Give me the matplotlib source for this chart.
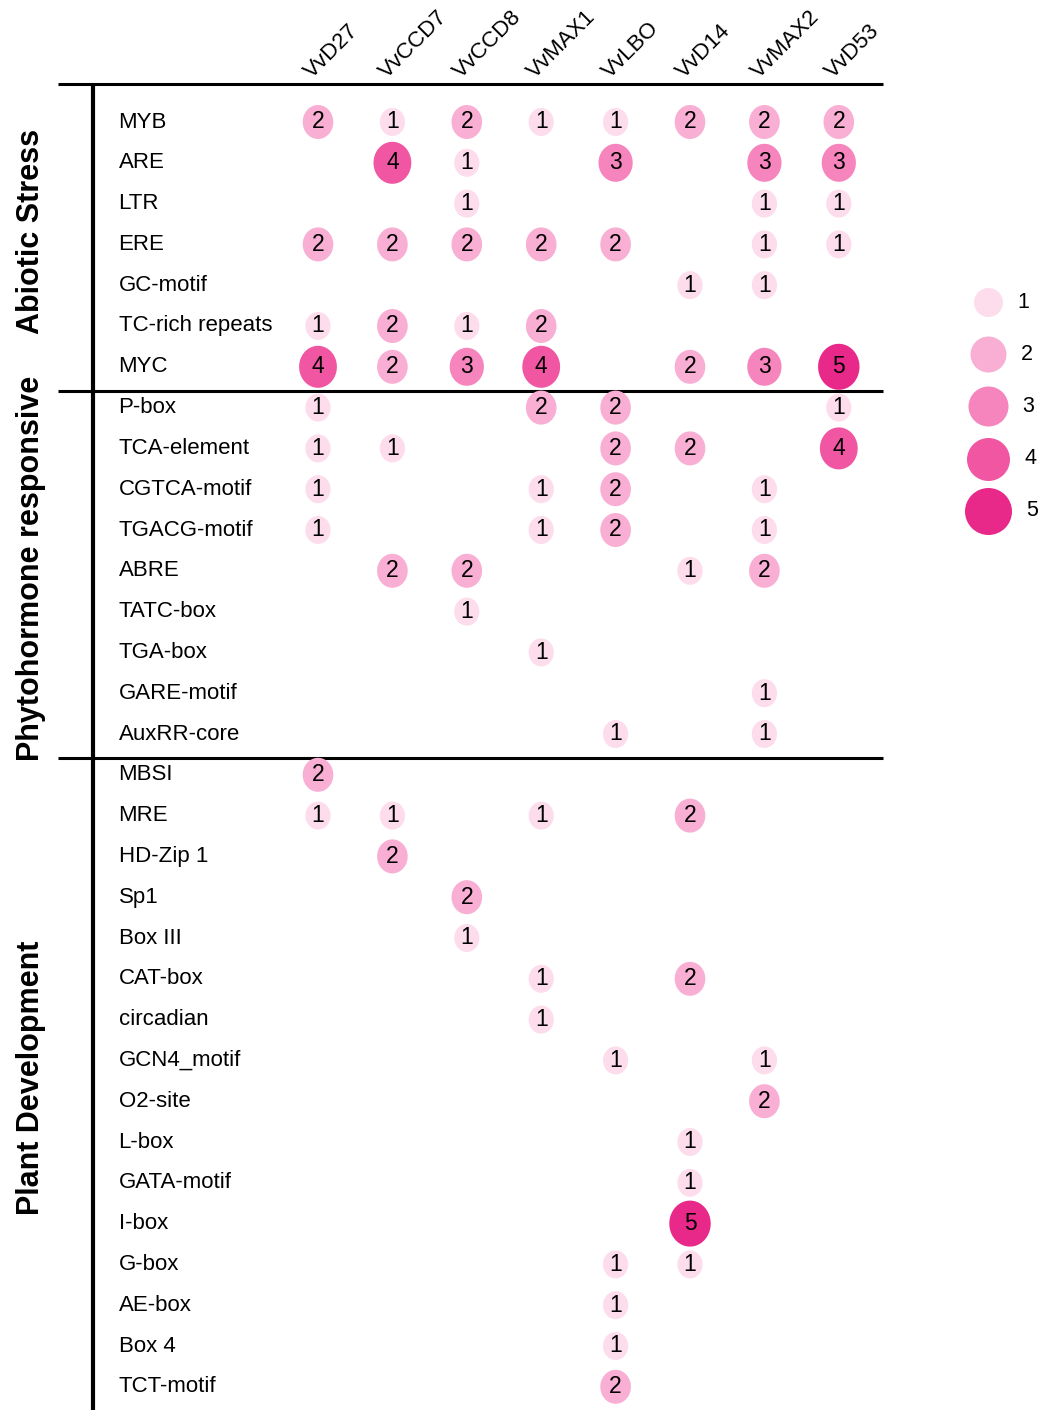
import numpy as np
import matplotlib.pyplot as plt
from matplotlib.path import Path

plt.rcParams['font.family'] = ['Liberation Sans', 'DejaVu Sans']

GENES = ["VvD27", "VvCCD7", "VvCCD8", "VvMAX1", "VvLBO", "VvD14", "VvMAX2", "VvD53"]

SECTIONS = ["Abiotic Stress", "Phytohormone responsive", "Plant Development"]

ABIOTIC_ELEMENTS = ["MYB", "ARE", "LTR", "ERE", "GC-motif", "TC-rich repeats", "MYC"]
ABIOTIC_COUNTS = [
    [2, 1, 2, 1, 1, 2, 2, 2],
    [0, 4, 1, 0, 3, 0, 3, 3],
    [0, 0, 1, 0, 0, 0, 1, 1],
    [2, 2, 2, 2, 2, 0, 1, 1],
    [0, 0, 0, 0, 0, 1, 1, 0],
    [1, 2, 1, 2, 0, 0, 0, 0],
    [4, 2, 3, 4, 0, 2, 3, 5],
]

HORMONE_ELEMENTS = ["P-box", "TCA-element", "CGTCA-motif", "TGACG-motif", "ABRE",
                    "TATC-box", "TGA-box", "GARE-motif", "AuxRR-core"]
HORMONE_COUNTS = [
    [1, 0, 0, 2, 2, 0, 0, 1],
    [1, 1, 0, 0, 2, 2, 0, 4],
    [1, 0, 0, 1, 2, 0, 1, 0],
    [1, 0, 0, 1, 2, 0, 1, 0],
    [0, 2, 2, 0, 0, 1, 2, 0],
    [0, 0, 1, 0, 0, 0, 0, 0],
    [0, 0, 0, 1, 0, 0, 0, 0],
    [0, 0, 0, 0, 0, 0, 1, 0],
    [0, 0, 0, 0, 1, 0, 1, 0],
]

DEVEL_ELEMENTS = ["MBSI", "MRE", "HD-Zip 1", "Sp1", "Box III", "CAT-box", "circadian",
                  "GCN4_motif", "O2-site", "L-box", "GATA-motif", "I-box", "G-box",
                  "AE-box", "Box 4", "TCT-motif"]
DEVEL_COUNTS = [
    [2, 0, 0, 0, 0, 0, 0, 0],
    [1, 1, 0, 1, 0, 2, 0, 0],
    [0, 2, 0, 0, 0, 0, 0, 0],
    [0, 0, 2, 0, 0, 0, 0, 0],
    [0, 0, 1, 0, 0, 0, 0, 0],
    [0, 0, 0, 1, 0, 2, 0, 0],
    [0, 0, 0, 1, 0, 0, 0, 0],
    [0, 0, 0, 0, 1, 0, 1, 0],
    [0, 0, 0, 0, 0, 0, 2, 0],
    [0, 0, 0, 0, 0, 1, 0, 0],
    [0, 0, 0, 0, 0, 1, 0, 0],
    [0, 0, 0, 0, 0, 5, 0, 0],
    [0, 0, 0, 0, 1, 1, 0, 0],
    [0, 0, 0, 0, 1, 0, 0, 0],
    [0, 0, 0, 0, 1, 0, 0, 0],
    [0, 0, 0, 0, 2, 0, 0, 0],
]

LEVELS = [1, 2, 3, 4, 5]

# styling
LEVEL_COLORS = {1: "#fddcec", 2: "#f9aed3", 3: "#f685bd", 4: "#f056a2", 5: "#e8298a"}
BUBBLE_PX = {1: 28, 2: 34, 3: 38, 4: 42, 5: 46}    # bubble height in pixels
LEGEND_PX = {1: 29, 2: 36, 3: 40, 4: 43, 5: 47}
PT = 0.72   # pixels -> points at dpi 100
FS = 16

# page layout (pixels): first column / row centre and pitch
W, H = 1054, 1410
X0, DX = 318, 74.4
Y0, DY = 122, 40.8

# slightly tall ellipse marker
t = np.linspace(0, 2 * np.pi, 120)
ELLIPSE = Path(np.column_stack([0.9 * np.cos(t), np.sin(t)]), closed=True)


def main():
    blocks = [(ABIOTIC_ELEMENTS, ABIOTIC_COUNTS),
              (HORMONE_ELEMENTS, HORMONE_COUNTS),
              (DEVEL_ELEMENTS, DEVEL_COUNTS)]
    n_rows = sum(len(e) for e, _ in blocks)

    fig = plt.figure(figsize=(W / 100, H / 100), dpi=100)
    ax = fig.add_axes([0, 0, 1, 1])
    ax.set_xlim(-X0 / DX, (W - X0) / DX)
    ax.set_ylim((H - Y0) / DY, -Y0 / DY)
    ax.axis("off")

    x_rule = (-3.5, 7.6)
    y_head = (84 - Y0) / DY
    y_bottom = (H - Y0) / DY

    xs, ys, sizes, colors, vals = [], [], [], [], []
    row = 0
    top = y_head
    for title, (elements, counts) in zip(SECTIONS, blocks):
        for name, line in zip(elements, counts):
            ax.text(-2.68, row, name, ha="left", va="center", fontsize=FS)
            for c, v in enumerate(line):
                if v > 0:
                    xs.append(c)
                    ys.append(row)
                    sizes.append((BUBBLE_PX[v] * PT) ** 2)
                    colors.append(LEVEL_COLORS[v])
                    vals.append(v)
            row += 1
        bottom = row - 0.4 if row < n_rows else y_bottom
        if row < n_rows:
            ax.plot(x_rule, [bottom, bottom], color="black", lw=2.2,
                    solid_capstyle="butt", clip_on=False)
        # section name centred between its rules
        ax.text(-3.86, (top + bottom) / 2 - 0.15, title, rotation=90,
                ha="center", va="center", fontsize=22, fontweight="bold")
        top = bottom

    ax.scatter(xs, ys, s=sizes, c=colors, marker=ELLIPSE, linewidths=0, zorder=2)
    for x, y, v in zip(xs, ys, vals):
        ax.text(x, y, str(v), ha="center", va="center", fontsize=16.5, zorder=3)

    # header rule, gene names and the left rule
    ax.plot(x_rule, [y_head, y_head], color="black", lw=2.2,
            solid_capstyle="butt", clip_on=False)
    ax.plot([-3.02, -3.02], [y_head, y_bottom], color="black", lw=3,
            solid_capstyle="butt", clip_on=False)
    for c, g in enumerate(GENES):
        ax.text(c - 0.08, y_head - 0.12, g, rotation=45, rotation_mode="anchor",
                ha="left", va="baseline", fontsize=FS)

    # size legend
    for i, lv in enumerate(LEVELS):
        y = (302 - Y0) / DY + 1.28 * i
        ax.scatter([9.0], [y], s=(LEGEND_PX[lv] * PT) ** 2, c=LEVEL_COLORS[lv],
                   marker="o", linewidths=0, clip_on=False)
        ax.annotate(str(lv), (9.0, y), xytext=((LEGEND_PX[lv] / 2 + 15) * PT, 0),
                    textcoords="offset points", ha="left", va="center", fontsize=15.5)

    fig.savefig("out.png", dpi=100)


if __name__ == "__main__":
    main()
